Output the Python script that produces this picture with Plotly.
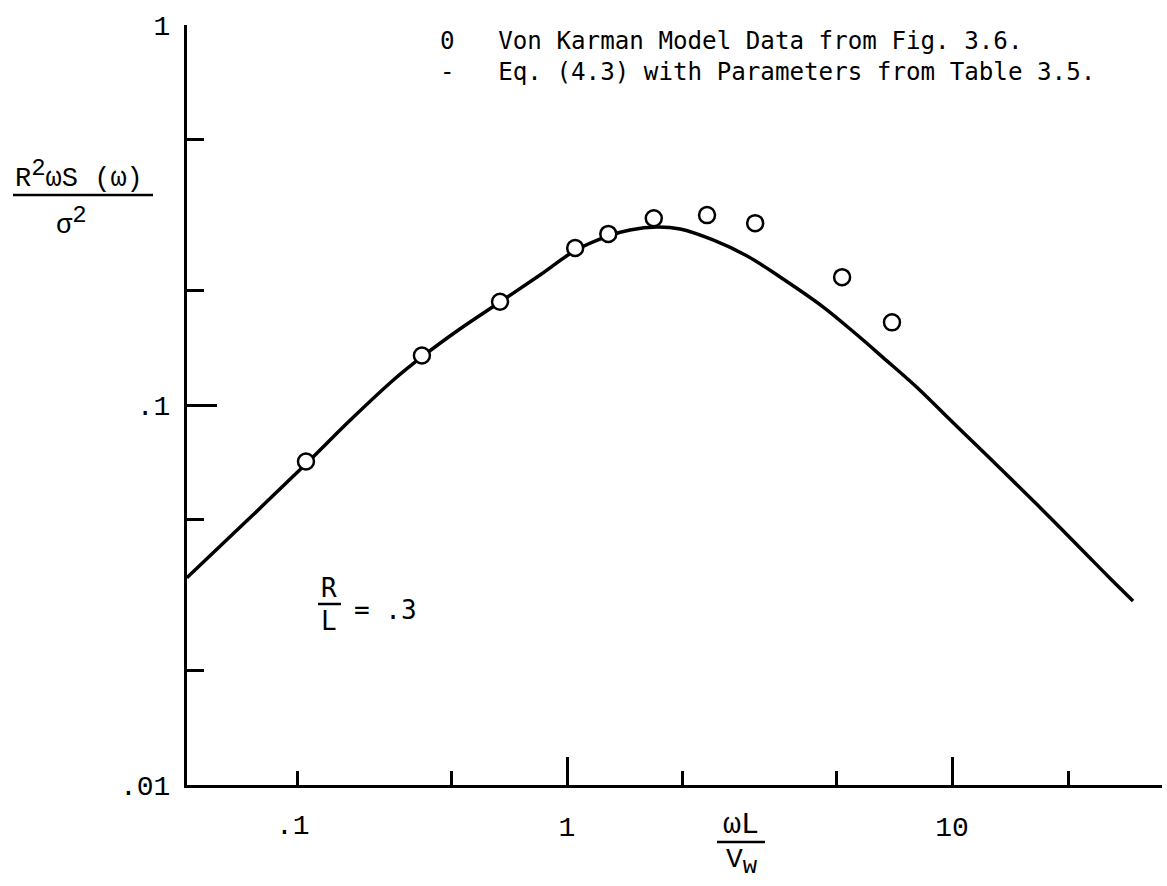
import math
import plotly.graph_objects as go

# Von Karman model data (circles)
data_x = [0.21, 0.42, 0.67, 1.05, 1.28, 1.68, 2.31, 3.08, 5.18, 6.98]
data_y = [0.071, 0.135, 0.187, 0.259, 0.282, 0.310, 0.316, 0.301, 0.217, 0.165]

# Eq. (4.3) curve
curve_x = [0.103, 0.150, 0.2125, 0.273, 0.353, 0.423, 0.527, 0.670, 0.851, 1.055,
           1.278, 1.457, 1.713, 1.966, 2.394, 2.936, 3.575, 4.62, 5.67, 6.62,
           8.11, 9.88, 12.04, 14.75, 17.98, 21.88, 25.7, 29.5]
curve_y = [0.0351, 0.0504, 0.0708, 0.0910, 0.1160, 0.1346, 0.1585, 0.1866, 0.2198, 0.2557,
           0.2784, 0.2888, 0.2939, 0.2904, 0.2718, 0.2466, 0.2172, 0.1813, 0.1528, 0.1333,
           0.1112, 0.0914, 0.0753, 0.0616, 0.0505, 0.0413, 0.0350, 0.0305]

x_major = [1, 10]
x_major_text = ["1", "10"]
x_minor = [0.2, 0.5, 2, 5, 20]
y_major = [0.01, 0.1, 1]
y_major_text = [".01", ".1", "1"]
y_minor = [0.02, 0.05, 0.2, 0.5]

legend_lines = ["0\u00a0\u00a0\u00a0Von Karman Model Data from Fig. 3.6.",
                "-\u00a0\u00a0\u00a0Eq. (4.3) with Parameters from Table 3.5."]

W, H = 1167, 886
L, R, T, B = 187, 5, 25, 101
PW, PH = W - L - R, H - T - B

def px(x):
    return (x - L) / PW

def py(y):
    return (H - B - y) / PH

TYPE = "Liberation Mono, Courier New, monospace"
SANS = "DejaVu Sans Mono, monospace"
BIG2 = '<span style="font-size:24px">2</span>'

fig = go.Figure()
fig.add_trace(go.Scatter(x=curve_x, y=curve_y, mode="lines",
                         line=dict(color="black", width=3.5, shape="spline", smoothing=1.0),
                         showlegend=False, hoverinfo="skip"))
fig.add_trace(go.Scatter(x=data_x, y=data_y, mode="markers",
                         marker=dict(symbol="circle", size=16, color="white",
                                     line=dict(color="black", width=2.5)),
                         showlegend=False))

fig.update_xaxes(type="log", range=[math.log10(0.1031), 1.545],
                 showline=True, linecolor="black", linewidth=3, mirror=False,
                 showgrid=False, zeroline=False,
                 tickmode="array", tickvals=x_major, ticktext=x_major_text,
                 ticks="inside", ticklen=28, tickwidth=3, tickcolor="black",
                 ticklabelstandoff=14,
                 tickfont=dict(family=TYPE, size=28, color="black"),
                 minor=dict(tickmode="array", tickvals=x_minor, ticks="inside",
                            ticklen=14, tickwidth=2.5, tickcolor="black", showgrid=False))
fig.update_yaxes(type="log", range=[-2, 0],
                 showline=True, linecolor="black", linewidth=3, mirror=False,
                 showgrid=False, zeroline=False,
                 tickmode="array", tickvals=y_major, ticktext=y_major_text,
                 ticks="inside", ticklen=30, tickwidth=3, tickcolor="black",
                 ticklabelstandoff=8,
                 tickfont=dict(family=TYPE, size=28, color="black"),
                 minor=dict(tickmode="array", tickvals=y_minor, ticks="inside",
                            ticklen=17, tickwidth=2.5, tickcolor="black", showgrid=False))

ann = []
# legend block
for line, yc in zip(legend_lines, [41, 72]):
    ann.append(dict(x=px(438), y=py(yc), xref="paper", yref="paper", text=line,
                    xanchor="left", yanchor="middle", showarrow=False,
                    font=dict(family=SANS, size=24.2, color="black")))
# y-axis title as a fraction
ann.append(dict(x=px(79), y=py(174), xref="paper", yref="paper",
                text="R<sup>" + BIG2 + "</sup>\u03c9S (\u03c9)", xanchor="center", yanchor="middle",
                showarrow=False, font=dict(family=TYPE, size=27, color="black")))
ann.append(dict(x=px(71), y=py(221), xref="paper", yref="paper",
                text="\u03c3<sup>" + BIG2 + "</sup>", xanchor="center", yanchor="middle",
                showarrow=False, font=dict(family=TYPE, size=27, color="black")))
# x-axis title as a fraction
ann.append(dict(x=px(741), y=py(825), xref="paper", yref="paper",
                text="\u03c9L", xanchor="center", yanchor="middle",
                showarrow=False, font=dict(family=TYPE, size=30, color="black")))
ann.append(dict(x=px(724), y=py(862), xref="paper", yref="paper",
                text='V<sub><span style="font-size:24px">w</span></sub>',
                xanchor="left", yanchor="middle",
                showarrow=False, font=dict(family=TYPE, size=28, color="black")))
# origin label of the x axis
ann.append(dict(x=px(293), y=py(826), xref="paper", yref="paper",
                text=".1", xanchor="center", yanchor="middle",
                showarrow=False, font=dict(family=TYPE, size=28, color="black")))
# R/L note
ann.append(dict(x=px(329), y=py(588), xref="paper", yref="paper", text="R",
                xanchor="center", yanchor="middle", showarrow=False,
                font=dict(family=SANS, size=26, color="black")))
ann.append(dict(x=px(329), y=py(621), xref="paper", yref="paper", text="L",
                xanchor="center", yanchor="middle", showarrow=False,
                font=dict(family=SANS, size=26, color="black")))
ann.append(dict(x=px(352), y=py(610), xref="paper", yref="paper", text="= .3",
                xanchor="left", yanchor="middle", showarrow=False,
                font=dict(family=SANS, size=26, color="black")))

shapes = [
    dict(type="line", xref="paper", yref="paper", x0=px(13), x1=px(153), y0=py(195), y1=py(195),
         line=dict(color="black", width=2.5)),
    dict(type="line", xref="paper", yref="paper", x0=px(717), x1=px(765), y0=py(842), y1=py(842),
         line=dict(color="black", width=2.5)),
    dict(type="line", xref="paper", yref="paper", x0=px(318), x1=px(341), y0=py(604), y1=py(604),
         line=dict(color="black", width=2.5)),
]

fig.update_layout(width=W, height=H, margin=dict(l=L, r=R, t=T, b=B, pad=0),
                  paper_bgcolor="white", plot_bgcolor="white",
                  annotations=ann, shapes=shapes, showlegend=False)

fig.write_html("out.html")
